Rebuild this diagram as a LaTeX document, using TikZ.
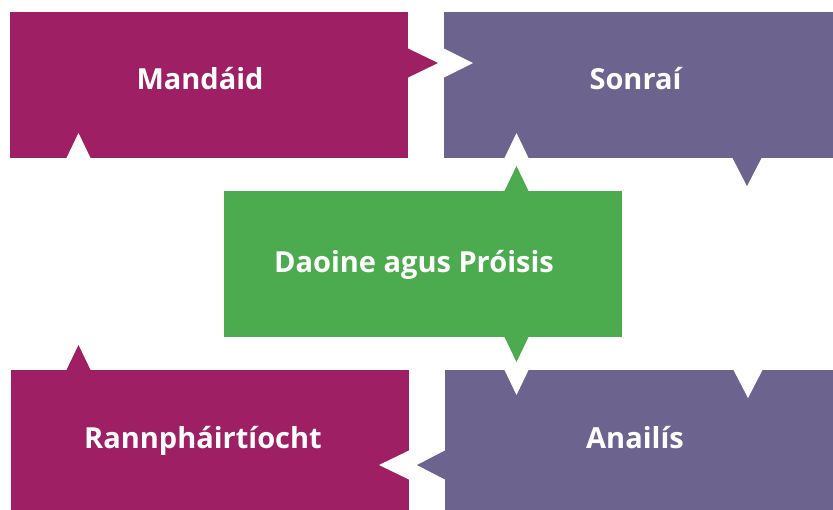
\documentclass[tikz,border=0pt]{standalone}
\usepackage{fontspec}
\setsansfont{Open Sans}
\usetikzlibrary{calc}

\definecolor{mandaidC}{HTML}{9E1F63}
\definecolor{sonraiC}{HTML}{6C648E}
\definecolor{daoineC}{HTML}{4CAB4E}

\begin{document}
\begin{tikzpicture}[
    x=1pt, y=-1pt,
    box/.style={rectangle, minimum width=398pt, minimum height=146pt, inner sep=0pt, outer sep=0pt},
    lbl/.style={anchor=base, inner sep=0pt, text=white, font=\sffamily\bfseries\fontsize{29}{34}\selectfont},
    notch/.style={fill=white}
]
\useasboundingbox (0,0) rectangle (833,509);
\clip (0,0) rectangle (833,509);

% Boxes
\node (mandaid) [box, fill=mandaidC] at (209,85) {};
\node (sonrai) [box, fill=sonraiC] at (643,85) {};
\node (daoine) [box, fill=daoineC] at (423,264) {};
\node (rannp) [box, fill=mandaidC] at (210,443) {};
\node (anailis) [box, fill=sonraiC] at (644,443) {};

% Texts
\node (mandaidT) [lbl] at ($(mandaid.center)+(-9,4)$) {Mandáid};
\node (sonraiT) [lbl] at ($(sonrai.center)+(-7.5,4)$) {Sonraí};
\node (daoineT) [lbl] at ($(daoine.center)+(-9,8)$) {Daoine agus Próisis};
\node (rannpT) [lbl] at ($(rannp.center)+(-7,5)$) {Rannpháirtíocht};
\node (anailisT) [lbl] at ($(anailis.center)+(-9,5)$) {Anailís};

% Pointers and notches
\fill [mandaidC] (mandaid.east) ++(-1,-37) -- ++(31,15) -- ++(-31,15) -- cycle;
\fill [notch] (sonrai.west) ++(-1,-37) -- ++(30,15) -- ++(-30,15) -- cycle;

\fill [sonraiC] (sonrai.south) ++(89,-1) -- ++(15,29) -- ++(15,-29) -- cycle;
\fill [notch] (anailis.north) ++(89,-1) -- ++(15,29) -- ++(15,-29) -- cycle;

\fill [sonraiC] (anailis.west) ++(1,7) -- ++(-29,15) -- ++(29,15) -- cycle;
\fill [notch] (rannp.east) ++(1,7) -- ++(-31,15) -- ++(31,15) -- cycle;

\fill [mandaidC] (rannp.north) ++(-144,1) -- ++(12.5,-26) -- ++(12.5,26) -- cycle;
\fill [notch] (mandaid.south) ++(-143,1) -- ++(12.5,-26) -- ++(12.5,26) -- cycle;

\fill [daoineC] (daoine.north) ++(81,1) -- ++(12.5,-26) -- ++(12.5,26) -- cycle;
\fill [notch] (sonrai.south) ++(-139,1) -- ++(12.5,-26) -- ++(12.5,26) -- cycle;

\fill [daoineC] (daoine.south) ++(81,-1) -- ++(12.5,26) -- ++(12.5,-26) -- cycle;
\fill [notch] (anailis.north) ++(-140,-1) -- ++(12.5,26) -- ++(12.5,-26) -- cycle;

\end{tikzpicture}
\end{document}
